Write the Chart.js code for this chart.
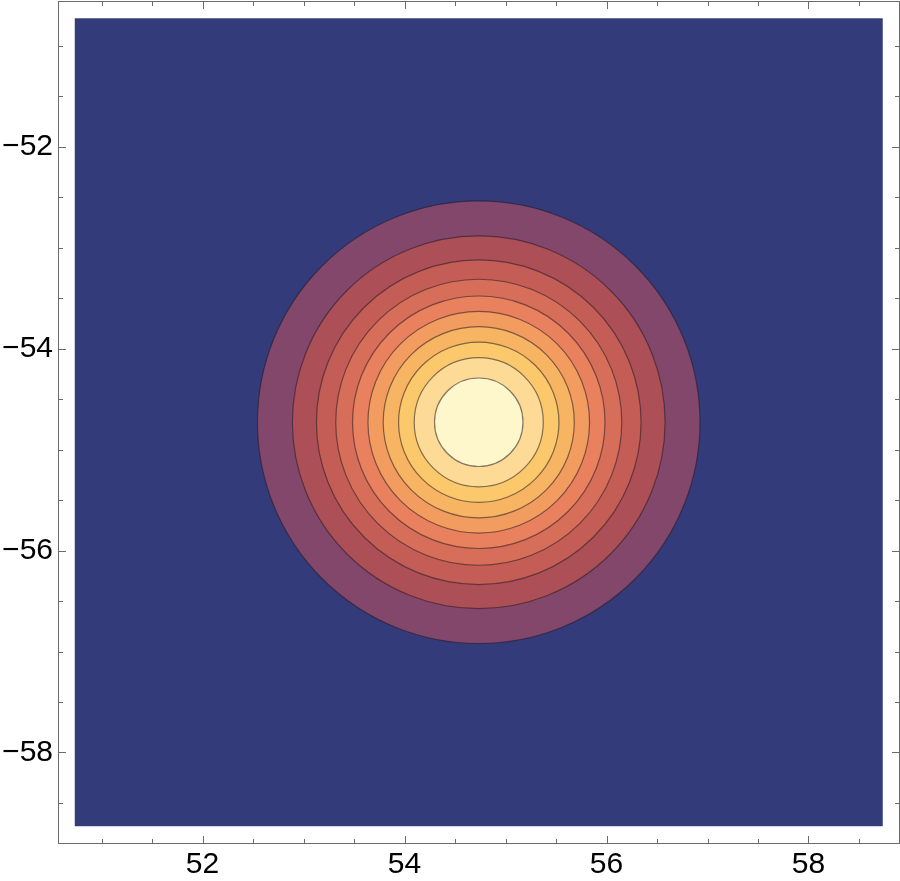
<!DOCTYPE html>
<html>
<head>
<meta charset="utf-8">
<script src="https://cdn.jsdelivr.net/npm/chart.js@4"></script>
<style>
  html, body { margin: 0; padding: 0; background: #fff; }
  #wrap { width: 900px; height: 881px; }
</style>
</head>
<body>
<div id="wrap"><canvas id="c" width="900" height="881"></canvas></div>
<script>
// ---- data ----
const peakX = 54.735;
const peakY = -54.73;
const domainX = [50.735, 58.735];
const domainY = [-58.73, -50.73];
const backgroundBandColor = '#333B7B';
// contour radii (outer to inner), in data units
const contourRadii = [2.191, 1.845, 1.607, 1.416, 1.250, 1.097, 0.946, 0.794, 0.639, 0.438];
// fill colour of the band inside each contour
const bandColors = ['#82476B', '#AD4F56', '#C35D55', '#D76E59', '#EA815E', '#F29C60', '#F7B462', '#FBC86B', '#FDDB96', '#FFF7CC'];
const contourLineColor = 'rgba(35,25,35,0.55)';
const xMajorTicks = [52, 54, 56, 58];
const xMinorTicks = [51, 51.5, 52.5, 53, 53.5, 54.5, 55, 55.5, 56.5, 57, 57.5, 58.5];
const yMajorTicks = [-52, -54, -56, -58];
const yMinorTicks = [-51, -51.5, -52.5, -53, -53.5, -54.5, -55, -55.5, -56.5, -57, -57.5, -58.5];
const xRange = [50.569, 58.906];
const yRange = [-58.906, -50.559];

const frameColor = '#6a6a6a';
const fontFamily = '"Liberation Sans", Arial, Helvetica, sans-serif';
const fmt = v => (v < 0 ? '\u2212' + Math.abs(v) : String(v));

// Draws the filled contour bands through the chart's x/y scales
const contourPlugin = {
  id: 'contours',
  beforeDatasetsDraw(chart) {
    const {ctx, scales: {x, y}} = chart;
    const x0 = x.getPixelForValue(domainX[0]), x1 = x.getPixelForValue(domainX[1]);
    const y0 = y.getPixelForValue(domainY[1]), y1 = y.getPixelForValue(domainY[0]);
    ctx.save();
    ctx.fillStyle = backgroundBandColor;
    ctx.fillRect(x0, y0, x1 - x0, y1 - y0);
    const cx = x.getPixelForValue(peakX), cy = y.getPixelForValue(peakY);
    contourRadii.forEach((r, i) => {
      const rx = Math.abs(x.getPixelForValue(peakX + r) - cx);
      const ry = Math.abs(y.getPixelForValue(peakY + r) - cy);
      ctx.beginPath();
      ctx.ellipse(cx, cy, rx, ry, 0, 0, Math.PI * 2);
      ctx.fillStyle = bandColors[i];
      ctx.fill();
      ctx.lineWidth = 1.2;
      ctx.strokeStyle = contourLineColor;
      ctx.stroke();
    });
    ctx.restore();
  },
  afterDraw(chart) {
    const {ctx, chartArea: a, scales: {x, y}} = chart;
    ctx.save();
    ctx.strokeStyle = frameColor;
    ctx.lineWidth = 1;
    ctx.strokeRect(a.left + 0.5, a.top + 0.5, a.right - a.left - 1, a.bottom - a.top - 1);
    const drawX = (vals, len) => vals.forEach(v => {
      const px = Math.round(x.getPixelForValue(v)) + 0.5;
      ctx.beginPath();
      ctx.moveTo(px, a.bottom); ctx.lineTo(px, a.bottom - len);
      ctx.moveTo(px, a.top); ctx.lineTo(px, a.top + len);
      ctx.stroke();
    });
    const drawY = (vals, len) => vals.forEach(v => {
      const py = Math.round(y.getPixelForValue(v)) + 0.5;
      ctx.beginPath();
      ctx.moveTo(a.left, py); ctx.lineTo(a.left + len, py);
      ctx.moveTo(a.right, py); ctx.lineTo(a.right - len, py);
      ctx.stroke();
    });
    drawX(xMajorTicks, 8); drawX(xMinorTicks, 5);
    drawY(yMajorTicks, 8); drawY(yMinorTicks, 5);
    ctx.restore();
  }
};

new Chart(document.getElementById('c'), {
  type: 'scatter',
  data: {
    datasets: [{
      label: 'peak',
      data: [{x: peakX, y: peakY}],
      pointRadius: 0,
      pointHoverRadius: 0
    }]
  },
  plugins: [contourPlugin],
  options: {
    responsive: false,
    animation: false,
    events: [],
    layout: { autoPadding: false, padding: { top: 1, right: 0, left: 0, bottom: 0 } },
    plugins: { legend: { display: false }, tooltip: { enabled: false } },
    scales: {
      x: {
        type: 'linear',
        min: xRange[0], max: xRange[1],
        grid: { display: false, drawTicks: false },
        border: { display: false },
        afterBuildTicks: s => { s.ticks = xMajorTicks.map(v => ({value: v})); },
        afterFit: s => { s.height = 37; s.paddingLeft = 0; s.paddingRight = 0; },
        ticks: {
          autoSkip: false, maxRotation: 0, padding: 3,
          color: '#000',
          font: { family: fontFamily, size: 30 },
          callback: v => fmt(v)
        }
      },
      y: {
        type: 'linear',
        min: yRange[0], max: yRange[1],
        grid: { display: false, drawTicks: false },
        border: { display: false },
        afterBuildTicks: s => { s.ticks = yMajorTicks.map(v => ({value: v})); },
        afterFit: s => { s.width = 58; s.paddingTop = 0; s.paddingBottom = 0; },
        ticks: {
          autoSkip: false, padding: 5,
          color: '#000',
          font: { family: fontFamily, size: 30 },
          callback: v => fmt(v)
        }
      }
    }
  }
});
</script>
</body>
</html>
